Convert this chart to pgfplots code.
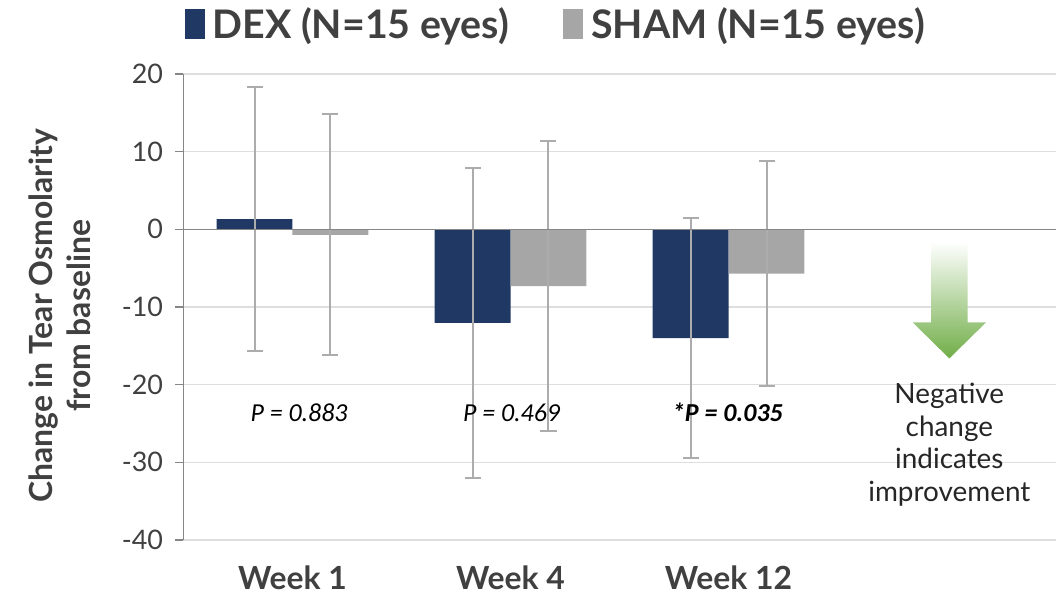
\documentclass[border=0pt]{standalone}
\usepackage{pgfplots}
\pgfplotsset{compat=1.18}
\usepackage{pgfplotstable}
\usepackage{fontspec}
\setmainfont{Lato}
\newfontfamily\pfont{Carlito}
\definecolor{dexblue}{RGB}{31,56,100}
\definecolor{shamgray}{RGB}{166,166,166}
\definecolor{errgray}{RGB}{172,172,172}
\definecolor{gridgray}{RGB}{222,222,222}
\definecolor{axisgray}{RGB}{134,134,134}
\definecolor{textgray}{RGB}{64,64,64}
\definecolor{arrowgreen}{RGB}{112,173,71}

\pgfplotstableread{
x y err
0 1.3 17.0
1 -12.05 20.0
2 -14.0 15.5
}\dex
\pgfplotstableread{
x y err
0 -0.7 15.5
1 -7.3 18.65
2 -5.7 14.5
}\sham

\begin{document}
\begin{tikzpicture}
\useasboundingbox (-183.5bp,-54bp) rectangle (880.5bp,540bp);
\begin{axis}[
  at={(0,0)}, anchor=south west,
  scale only axis, width=872bp, height=466bp,
  xmin=-0.5, xmax=3.5, ymin=-40, ymax=20,
  ybar,
  axis lines*=left,
  x axis line style={draw=none},
  y axis line style={color=axisgray, line width=1.5bp},
  xtick={0,1,2}, xticklabels={Week 1, Week 4, Week 12},
  xtick style={draw=none},
  ytick={-40,-30,...,20},
  ytick style={color=axisgray, line width=1.5bp},
  tick align=outside, major tick length=8bp,
  ymajorgrids, grid style={color=gridgray, line width=1.5bp},
  /pgf/number format/assume math mode=true,
  yticklabel style={font=\fontsize{27}{27}\selectfont, text=textgray, xshift=-9bp},
  xticklabel style={font=\fontsize{32}{32}\selectfont\bfseries, text=textgray, yshift=-14bp},
  ylabel={Change in Tear Osmolarity\\from baseline},
  ylabel style={at={(axis description cs:-0.1416,0.481)}, anchor=center, align=center,
    font=\fontsize{32}{38}\selectfont\bfseries, text=textgray},
  legend style={draw=none, fill=none, at={(0.427,1.107)}, anchor=center,
    legend columns=2, font=\fontsize{39.5}{40}\selectfont\bfseries, text=textgray,
    /tikz/every even column/.append style={column sep=52bp},
    /tikz/every odd column/.append style={column sep=0bp}},
  legend image code/.code={\fill[#1,draw=none] (0bp,-15bp) rectangle (20bp,15bp);},
  legend cell align=left,
  error bars/error bar style={color=errgray, line width=2bp},
  error bars/error mark options={rotate=90, mark size=8bp, color=errgray, line width=2bp},
  clip=false,
]
\addplot[fill=dexblue, draw=none, bar width=0.3486, bar shift=-0.1743,
  error bars/.cd, y dir=both, y explicit]
  table[x=x, y=y, y error=err]{\dex};
\addlegendentry{\hspace{6bp}DEX (N=15 eyes)}
\addplot[fill=shamgray, draw=none, bar width=0.3486, bar shift=0.1743,
  error bars/.cd, y dir=both, y explicit]
  table[x=x, y=y, y error=err]{\sham};
\addlegendentry{\hspace{6bp}SHAM (N=15 eyes)}

\draw[color=axisgray, line width=1.5bp] (axis cs:-0.5,0) -- (axis cs:3.5,0);

\node[font=\fontsize{26}{28}\selectfont\pfont\itshape] at (axis cs:0.03,-23.6) {P = 0.883};
\node[font=\fontsize{26}{28}\selectfont\pfont\itshape] at (axis cs:1.005,-23.6) {P = 0.469};
\node[font=\fontsize{26}{28}\selectfont\pfont\bfseries\itshape] at (axis cs:1.995,-23.6) {*P = 0.035};

\shade[top color=white, bottom color=arrowgreen]
  (axis cs:2.929,-1.63) -- (axis cs:3.097,-1.63) -- (axis cs:3.097,-11.99) --
  (axis cs:3.181,-11.99) -- (axis cs:3.013,-16.62) -- (axis cs:2.845,-11.99) --
  (axis cs:2.929,-11.99) -- cycle;
\node[align=center, anchor=north, font=\fontsize{28}{33}\selectfont, text=black!85]
  at (axis cs:3.013,-19.3) {Negative\\change\\indicates\\improvement};
\end{axis}
\end{tikzpicture}
\end{document}
